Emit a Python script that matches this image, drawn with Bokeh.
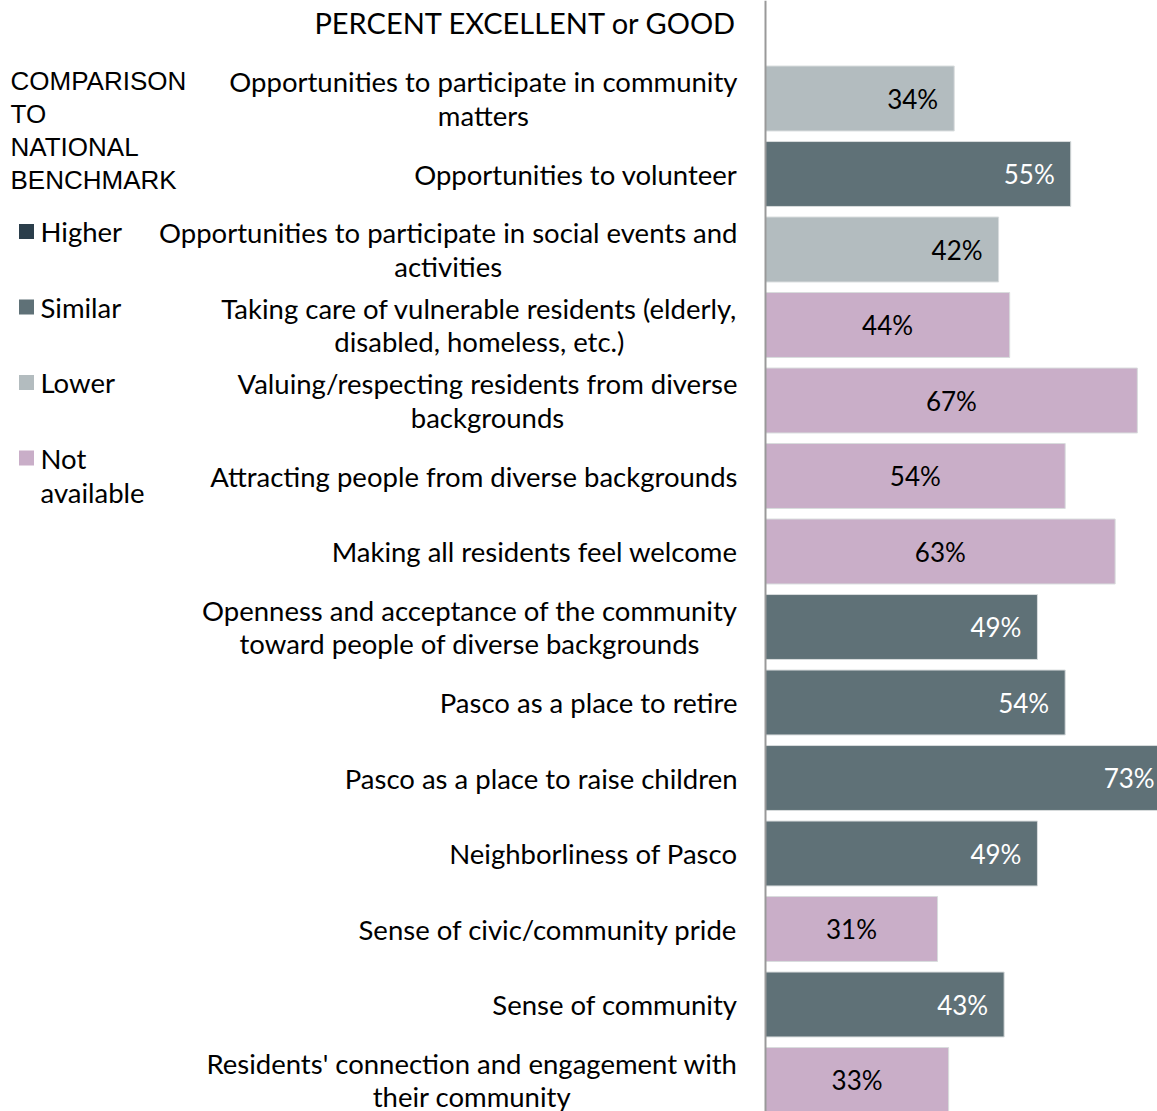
from bokeh.plotting import figure
from bokeh.models import Range1d, Span, ColumnDataSource
from bokeh.core.properties import value
from bokeh.embed import file_html
from bokeh.resources import INLINE

categories = [
    "Opportunities to participate in community\nmatters",
    "Opportunities to volunteer",
    "Opportunities to participate in social events and\nactivities",
    "Taking care of vulnerable residents (elderly,\ndisabled, homeless, etc.)",
    "Valuing/respecting residents from diverse\nbackgrounds",
    "Attracting people from diverse backgrounds",
    "Making all residents feel welcome",
    "Openness and acceptance of the community\ntoward people of diverse backgrounds",
    "Pasco as a place to retire",
    "Pasco as a place to raise children",
    "Neighborliness of Pasco",
    "Sense of civic/community pride",
    "Sense of community",
    "Residents' connection and engagement with\ntheir community",
]
percents = [34, 55, 42, 44, 67, 54, 63, 49, 54, 73, 49, 31, 43, 33]
comparison = ["Lower", "Similar", "Lower", "Not available", "Not available",
              "Not available", "Not available", "Similar", "Similar", "Similar",
              "Similar", "Not available", "Similar", "Not available"]

legend_items = ["Higher", "Similar", "Lower", "Not available"]
legend_labels = ["Higher", "Similar", "Lower", "Not\navailable"]
colors = {"Higher": "#2b3e4b", "Similar": "#5f7177", "Lower": "#b3bcbf",
          "Not available": "#c9aec8"}
title_text = "PERCENT EXCELLENT or GOOD"
legend_title = "COMPARISON\nTO\nNATIONAL\nBENCHMARK"

# layout helpers (page pixels -> data units)
X0, XS = 765.0, 5.55      # pixel x of 0 %, pixels per percent
Y0, YS = 98.0, 75.5       # pixel y of first row center, row pitch


def px(p):
    return (p - X0) / XS


def py(p):
    return (p - Y0) / YS


W, H = 1157, 1111
p = figure(width=W, height=H, output_backend="svg", toolbar_location=None,
           x_axis_location=None, y_axis_location=None,
           x_range=Range1d(px(0), px(W)), y_range=Range1d(py(H), py(0)),
           min_border=0, outline_line_color=None, title=None)
p.grid.visible = False
p.background_fill_color = "white"

idx = list(range(len(categories)))
bar_colors = [colors[c] for c in comparison]
dark = [c in ("Similar", "Higher") for c in comparison]
label_colors = ["white" if d else "black" for d in dark]
na = [c == "Not available" for c in comparison]
label_x = [v / 2 if n else v for v, n in zip(percents, na)]
label_off = [0 if n else -16 for n in na]
label_align = ["center" if n else "right" for n in na]

src = ColumnDataSource(dict(y=idx, v=percents, cat=categories, col=bar_colors,
                            lx=label_x, loff=label_off, lal=label_align,
                            lcol=label_colors,
                            txt=[f"{v}%" for v in percents]))

p.hbar(y="y", left=0, right="v", height=0.86, fill_color="col",
       line_color="#d8dcdd", line_width=1, source=src)

FONT = "Lato"
p.text(x="lx", y="y", text="txt", x_offset="loff", text_align="lal",
       text_baseline="middle", text_color="lcol", text_font=value(FONT),
       text_font_size="26px", source=src)

p.text(x=px(737), y="y", text="cat", anchor="center_right", text_align="center",
       text_baseline="middle", text_color="black", text_font=value(FONT),
       text_font_size="27.5px", text_line_height=1.02, source=src)

p.text(x=[px(737)], y=[py(22)], text=[title_text], text_align="right",
       text_baseline="middle", text_color="black", text_font=value(FONT),
       text_font_size="29px")

p.add_layout(Span(location=0, dimension="height", line_color="#999999",
                  line_width=2))

# legend
p.text(x=[px(10)], y=[py(129.5)], text=[legend_title], anchor="center_left",
       text_align="left", text_color="black",
       text_font=value("Liberation Sans"), text_font_size="26px",
       text_line_height=1.1)

leg_ty = [py(231) + k for k in range(len(legend_items))]
leg_ty[-1] = py(475)
p.scatter(x=[px(26)] * 4, y=[py(231) + k for k in range(4)], marker="square",
          size=15, fill_color=[colors[c] for c in legend_items], line_color=None)
p.text(x=[px(40)] * 4, y=leg_ty, text=legend_labels, anchor="center_left",
       text_align="left", text_color="black", text_font=value(FONT),
       text_font_size="27.5px", text_line_height=1.05)

open("out.html", "w").write(file_html(p, INLINE))
